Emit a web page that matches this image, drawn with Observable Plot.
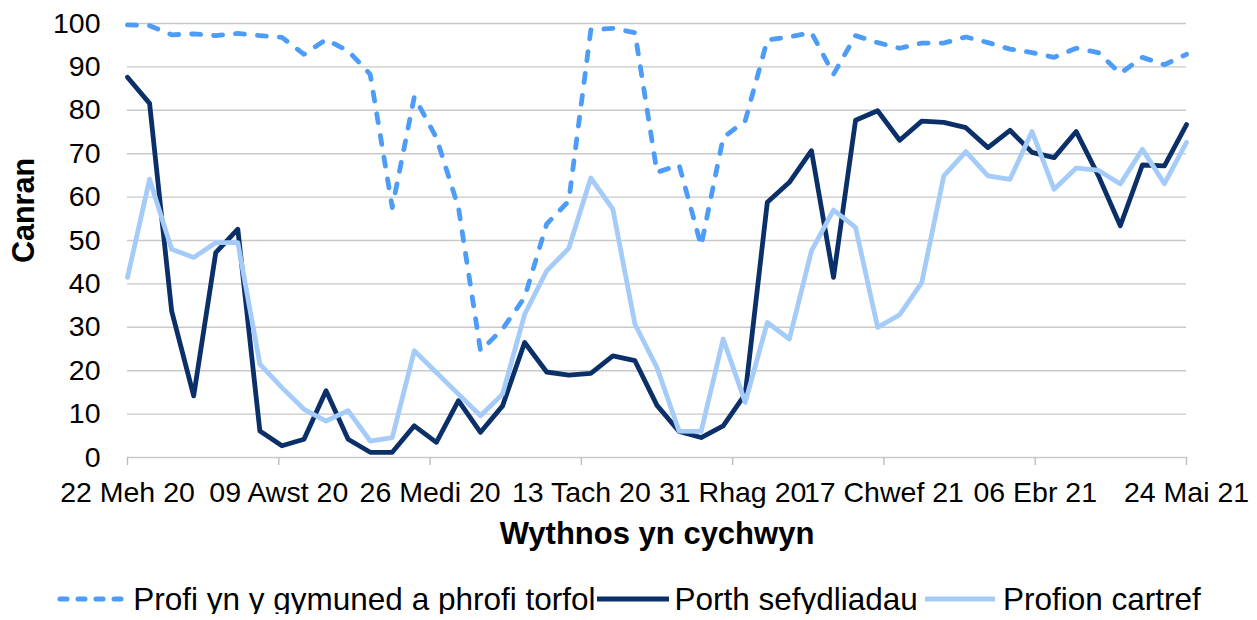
<!DOCTYPE html>
<html>
<head>
<meta charset="utf-8">
<script src="https://cdn.jsdelivr.net/npm/d3@7"></script>
<script src="https://cdn.jsdelivr.net/npm/@observablehq/plot@0.6"></script>
<style>
  html, body { margin: 0; padding: 0; background: #fff; overflow: hidden; }
  #chart { width: 1257px; }
  .legend { display: flex; justify-content: center; align-items: center; height: 30px; margin-top: 24px;
    font-family: "Liberation Sans", Arial, sans-serif; font-size: 31.5px; line-height: 30px; color: #000; white-space: nowrap; }
  .legend .item { display: flex; align-items: center; }
  .legend svg { display: block; }
</style>
</head>
<body>
<div id="chart"></div>
<script>
// ---- Data ----
const startWeek = "2020-06-22";
const seriesNames = ["Profi yn y gymuned a phrofi torfol", "Porth sefydliadau", "Profion cartref"];
const seriesColors = ["#4c9cf8", "#0b2f68", "#a5cbf9"];

const community = [99.7, 99.5, 97.4, 97.6, 97.2, 97.7, 97.2, 96.8, 92.9, 96.3, 93.7, 88.3, 57.6, 83.1, 73.7, 57.6, 24.6,
  29.6, 36.9, 53.8, 59.1, 98.5, 98.9, 97.9, 65.7, 67.4, 48.8, 73.7, 77.6, 96.2, 96.9, 97.9, 88.3, 97.2, 95.6, 94.3,
  95.5, 95.5, 96.9, 95.6, 94.1, 93.3, 92.2, 94.3, 93.3, 88.5, 92.2, 90.5, 92.9];
const portal = [87.6, 81.6, 33.8, 14.2, 47.2, 52.6, 6.1, 2.7, 4.2, 15.4, 4.2, 1.2, 1.2, 7.3, 3.5, 13.1, 5.8,
  11.9, 26.5, 19.7, 19.0, 19.4, 23.4, 22.3, 12.0, 6.0, 4.6, 7.3, 14.6, 58.8, 63.4, 70.7, 41.5, 77.7, 79.9, 73.1,
  77.5, 77.2, 76.0, 71.4, 75.4, 70.3, 69.1, 75.1, 65.0, 53.4, 67.4, 67.2, 76.7];
const home = [41.5, 64.1, 48.0, 46.1, 49.5, 49.5, 21.5, 16.1, 11.1, 8.4, 10.8, 3.8, 4.6, 24.6, 19.6, 14.6, 9.6,
  14.6, 33.0, 43.0, 48.2, 64.4, 57.2, 30.7, 20.7, 6.1, 6.0, 27.3, 12.7, 31.1, 27.3, 47.6, 57.0, 53.0, 30.0, 32.9,
  40.3, 64.9, 70.5, 64.9, 64.1, 75.1, 61.8, 66.7, 66.2, 63.0, 71.0, 63.1, 72.6];

const tickDates = ["2020-06-22", "2020-08-09", "2020-09-26", "2020-11-13", "2020-12-31", "2021-02-17", "2021-04-06", "2021-05-24"];
const tickLabels = ["22 Meh 20", "09 Awst 20", "26 Medi 20", "13 Tach 20", "31 Rhag 20", "17 Chwef 21", "06 Ebr 21", "24 Mai 21"];
const yTicks = [0, 10, 20, 30, 40, 50, 60, 70, 80, 90, 100];
const yTitle = "Canran";
const xTitle = "Wythnos yn cychwyn";

// ---- Build table ----
const start = new Date(startWeek + "T00:00:00Z");
const weeks = community.map((_, i) => d3.utcDay.offset(start, 7 * i));
const allSeries = [community, portal, home];
const table = allSeries.flatMap((vals, s) => vals.map((v, i) => ({date: weeks[i], value: v, series: seriesNames[s]})));
const tickDateObjs = tickDates.map(d => new Date(d + "T00:00:00Z"));
const labelMap = new Map(tickDateObjs.map((d, i) => [+d, tickLabels[i]]));

const font = '"Liberation Sans", Arial, sans-serif';
const lineOf = (s, extra) => Plot.line(table.filter(d => d.series === seriesNames[s]), {
  x: "date", y: "value", stroke: seriesColors[s], strokeWidth: 4.8, strokeLinejoin: "round", ...extra
});

const chart = Plot.plot({
  width: 1257,
  height: 560,
  marginLeft: 127,
  marginRight: 71,
  marginTop: 23,
  marginBottom: 103,
  style: {fontFamily: font, fontSize: "28.5px", color: "#000", background: "#fff", overflow: "visible"},
  x: {type: "utc", domain: [tickDateObjs[0], tickDateObjs[tickDateObjs.length - 1]]},
  y: {domain: [0, 100]},
  marks: [
    Plot.ruleY(yTicks, {stroke: "#c9c9c9", strokeWidth: 1.4}),
    Plot.axisY({ticks: yTicks, tickSize: 0, tickPadding: 27, label: null, fill: "#000", fontSize: 28.5}),
    Plot.axisX({ticks: tickDateObjs, tickFormat: d => labelMap.get(+d), tickSize: 8, tickPadding: 16,
      stroke: "#bdbdbd", strokeWidth: 1.4, fill: "#000", label: null, fontSize: 28.5}),
    lineOf(0, {strokeDasharray: "9,13", strokeLinecap: "round"}),
    lineOf(1, {}),
    lineOf(2, {}),
    Plot.text([yTitle], {text: d => d, frameAnchor: "left", rotate: -90, dx: -115, dy: 22.5, lineAnchor: "top",
      fontWeight: "bold", fontSize: 30.5, fill: "#000"}),
    Plot.text([xTitle], {text: d => d, frameAnchor: "bottom", lineAnchor: "bottom", dy: 86,
      fontWeight: "bold", fontSize: 31, fill: "#000"})
  ]
});
document.getElementById("chart").append(chart);

// ---- Legend ----
const legend = document.createElement("div");
legend.className = "legend";
const swW = [72, 72, 70];
const gapsAfterText = [2, 7, 0];
seriesNames.forEach((name, s) => {
  const item = document.createElement("div");
  item.className = "item";
  item.style.marginRight = gapsAfterText[s] + "px";
  const dash = s === 0 ? 'stroke-dasharray="7,11" stroke-linecap="round"' : 'stroke-linecap="butt"';
  const x1 = s === 0 ? 4 : 0, x2 = s === 0 ? swW[s] - 3 : swW[s];
  item.innerHTML = `<svg width="${swW[s]}" height="12"><line x1="${x1}" y1="6" x2="${x2}" y2="6" stroke="${seriesColors[s]}" stroke-width="5" ${dash}/></svg><span style="margin-left:${s === 2 ? 8 : 5}px">${name}</span>`;
  legend.append(item);
});
document.body.append(legend);
</script>
</body>
</html>
